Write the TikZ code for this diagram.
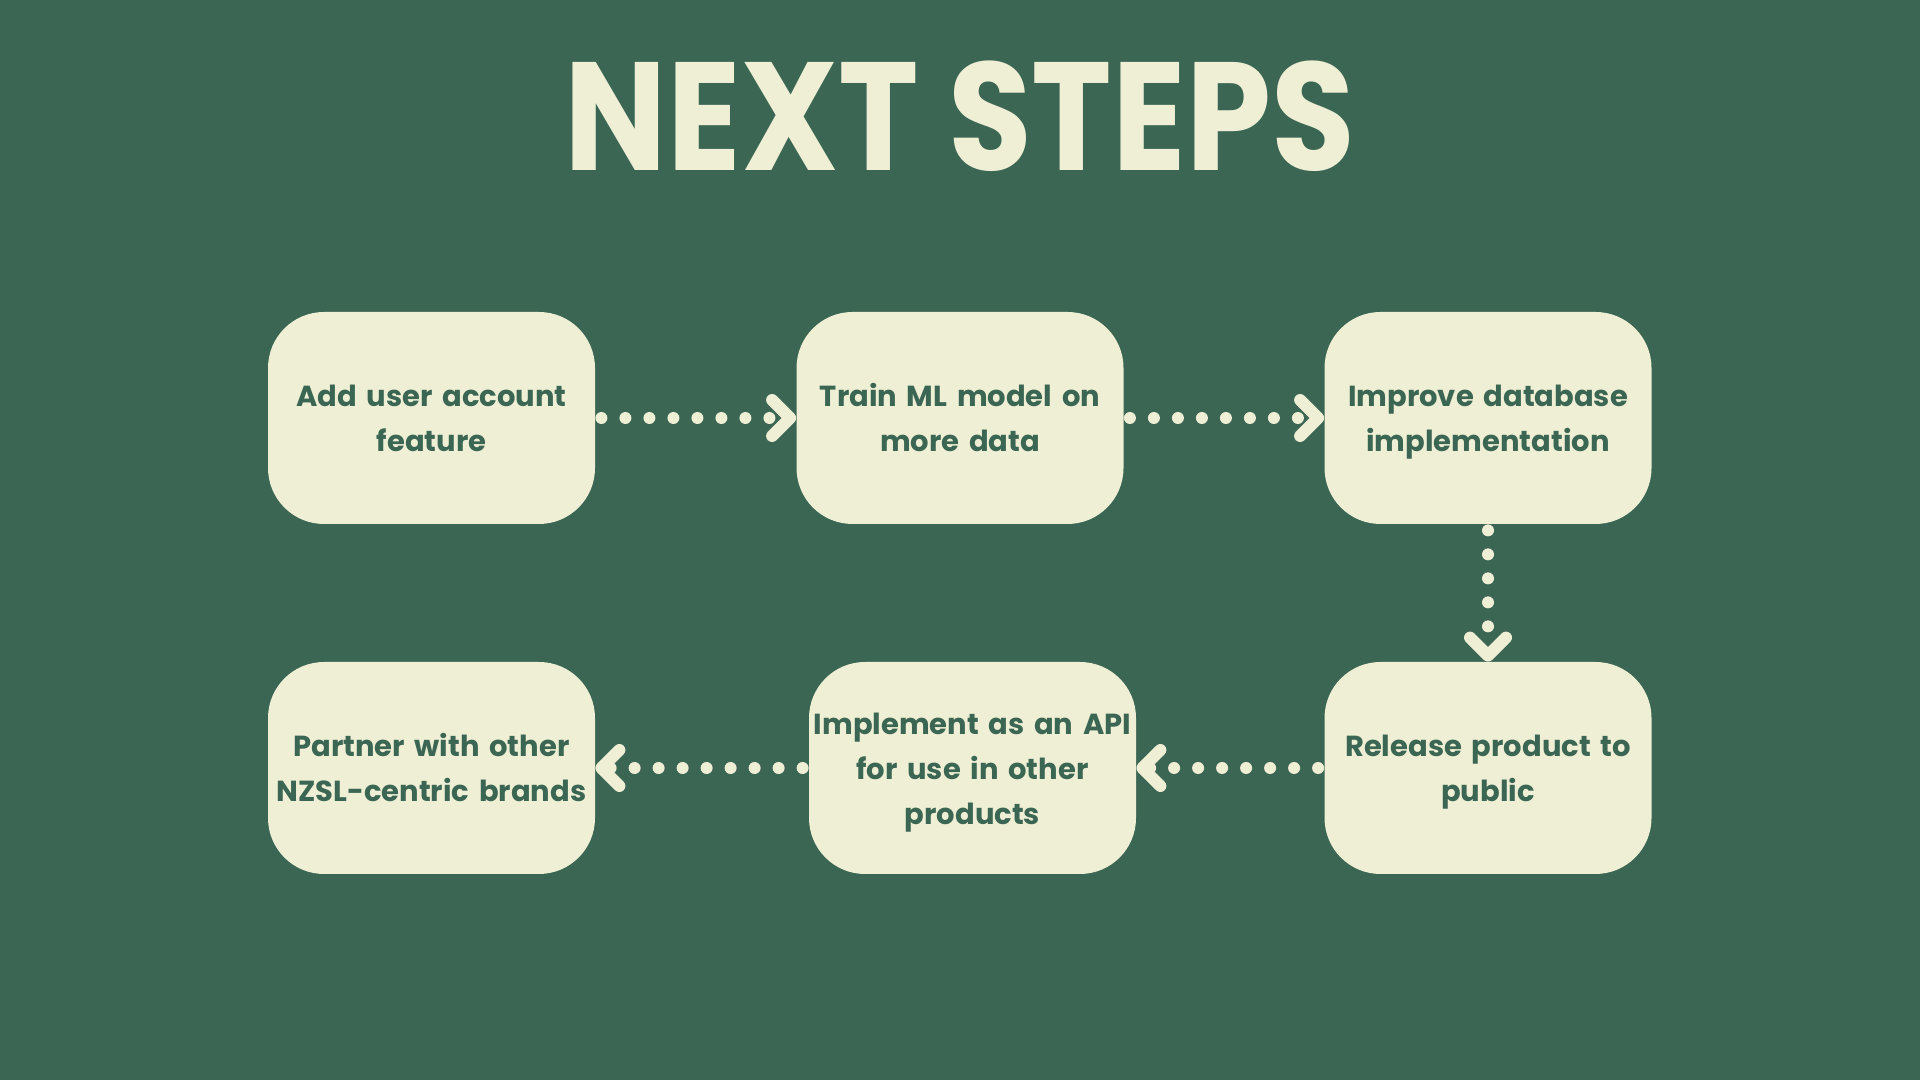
\documentclass[tikz,border=0pt]{standalone}
\usepackage{fontspec}
\setmainfont{Poppins}
\newfontfamily\titlefont{Poppins}[FakeStretch=0.885]
\usetikzlibrary{arrows.meta}
\definecolor{pine}{RGB}{59,102,83}
\definecolor{cream}{RGB}{238,239,213}

\begin{document}
\begin{tikzpicture}[x=1pt,y=1pt,
        stepbox/.style={rectangle,rounded corners=28pt,fill=cream,minimum width=163.5pt,minimum height=106pt,
            text width=160pt,align=center,inner sep=0pt,text=pine,font=\bfseries\fontsize{14.5}{22.5}\selectfont,
            execute at begin node={\rule{0pt}{18pt}},execute at end node=\strut},
        dots/.style={draw=cream,line width=6pt,line cap=round,dash pattern=on 0pt off 12pt,shorten <=3pt,
            -{Straight Barb[length=9pt,width=18pt,line width=6pt,round]}}]
        \fill[pine] (0,0) rectangle (960,540);
        \useasboundingbox (0,0) rectangle (960,540);

        \node[font=\titlefont\bfseries\fontsize{77}{77}\selectfont,text=cream,anchor=base] (title) at (480,454.5) {NEXT STEPS};

        % top row
        \node[stepbox] (user) at (215.75,331) {Add user account\\feature};
        \node[stepbox] (train) at (480,331) {Train ML model on\\more data};
        \node[stepbox] (db) at (744,331) {Improve database\\implementation};
        % bottom row
        \node[stepbox] (partner) at (215.75,156) {Partner with other\\NZSL-centric brands};
        \node[stepbox] (api) at (486.25,156) {Implement as an API\\for use in other\\products};
        \node[stepbox] (release) at (744,156) {Release product to\\public};

        \draw[dots] (user) -- (train);
        \draw[dots] (train) -- (db);
        \draw[dots] (db) -- (release);
        \draw[dots] (release) -- (api);
        \draw[dots] (api) -- (partner);
    \end{tikzpicture}
\end{document}
